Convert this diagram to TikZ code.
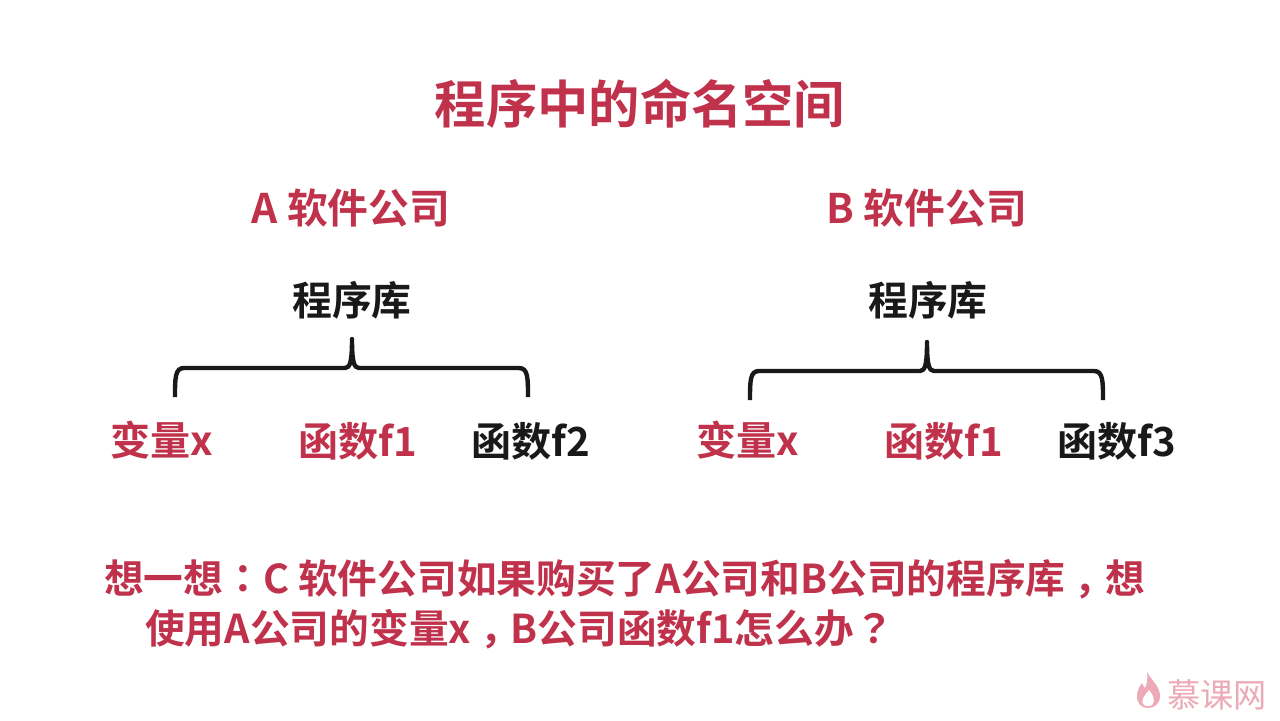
\documentclass[tikz,border=0pt]{standalone}
\usepackage{fontspec}
\setmainfont{Noto Sans CJK SC}[BoldFont={* Bold}]
\newfontfamily\punctfont{Noto Sans CJK TC}[BoldFont={* Bold}]
\definecolor{rd}{RGB}{192,50,75}
\definecolor{ink}{RGB}{25,25,25}
\definecolor{logo}{RGB}{236,170,182}
\newcommand\midpunct[1]{{\punctfont #1}}
\newcommand\lowpunct[1]{\raisebox{-0.3em}{\punctfont #1}}
\tikzset{
 px/.style={x=0.0264583cm,y=-0.0264583cm},
 ttl/.style={font=\bfseries\fontsize{38.6}{44}\selectfont,text=rd,inner sep=0},
 sub/.style={font=\bfseries\fontsize{30.7}{34}\selectfont,text=rd,inner sep=0},
 lib/.style={font=\bfseries\fontsize{30}{34}\selectfont,text=ink,inner sep=0},
 red/.style={font=\bfseries\fontsize{30.2}{34}\selectfont,text=rd,inner sep=0},
 blk/.style={font=\bfseries\fontsize{30.2}{34}\selectfont,text=ink,inner sep=0},
 que/.style={font=\bfseries\fontsize{29.9}{34}\selectfont,text=rd,inner sep=0,anchor=west},
 logotext/.style={font=\fontsize{25}{30}\selectfont,text=logo,inner sep=0},
 brace/.style={draw=ink,line width=3.3pt,line join=round}
}
\begin{document}
\begin{tikzpicture}[px]
\useasboundingbox (0,0) rectangle (1280,720);
\fill[white] (0,0) rectangle (1280,720);
\node[ttl] (t) at (640,104) {程序中的命名空间};
\node[sub] (a) at (351,208) {A 软件公司};
\node[sub] (b) at (927,208) {B 软件公司};
\node[lib] (la) at (352,300) {程序库};
\node[lib] (lb) at (928,300) {程序库};
\node[red] (a1) at (162,440) {变量x};
\node[red] (a2) at (358,441) {函数f1};
\node[blk] (a3) at (531,441) {函数f2};
\node[red] (b1) at (748,440) {变量x};
\node[red] (b2) at (944,441) {函数f1};
\node[blk] (b3) at (1117,441) {函数f3};
\draw[brace] (175,397) .. controls (175,378) and (175,368) .. (184,368) -- (345,368) .. controls (350,368) and (352,362) .. (352,339) .. controls (352,362) and (354,368) .. (359,368) -- (519,368) .. controls (528,368) and (528,378) .. (528,397);
\draw[brace] (750,400) .. controls (750,381) and (750,371) .. (759,371) -- (920,371) .. controls (925,371) and (927,365) .. (927,342) .. controls (927,365) and (929,371) .. (934,371) -- (1094,371) .. controls (1103,371) and (1103,381) .. (1103,400);
\node[que] (q1) at (104,582) {想一想\midpunct{：}C 软件公司如果购买了A公司和B公司的程序库\lowpunct{，}想};
\node[que] (q2) at (145,632) {使用A公司的变量x\lowpunct{，}B公司函数f1怎么办\midpunct{？}};
\fill[logo] (1147,672) .. controls (1151,680) and (1160,686) .. (1160,696) .. controls (1160,704) and (1154,708) .. (1148,708) .. controls (1142,708) and (1137,704) .. (1137,696) .. controls (1137,690) and (1140,686) .. (1142,683) .. controls (1143,686) and (1144,687) .. (1145,688) .. controls (1147,684) and (1148,678) .. (1147,672) -- cycle;
\fill[white] (1149,690) .. controls (1153,695) and (1155,699) .. (1153,704) .. controls (1150,707) and (1146,707) .. (1143,704) .. controls (1141,700) and (1144,696) .. (1149,690) -- cycle;
\node[logotext] (lg) at (1217,695) {慕课网};
\end{tikzpicture}
\end{document}
